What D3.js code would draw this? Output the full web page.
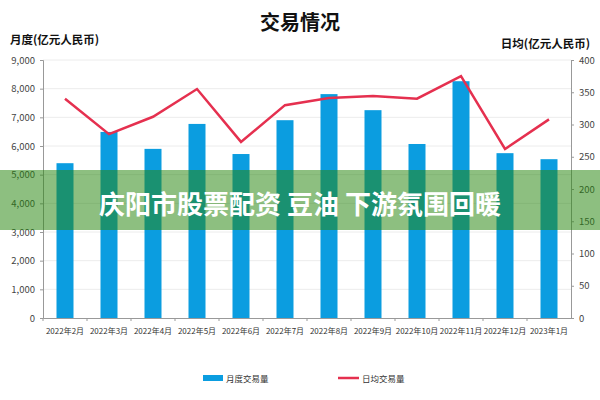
<!DOCTYPE html>
<html><head><meta charset="utf-8">
<script src="https://cdn.jsdelivr.net/npm/d3@7"></script>
<style>
body{margin:0;background:#fff;}
text{font-family:"Noto Sans CJK SC","Noto Sans",sans-serif;}
</style></head>
<body><svg id="c" width="600" height="400"></svg>
<script>
const categories = ["2022年2月","2022年3月","2022年4月","2022年5月","2022年6月","2022年7月","2022年8月","2022年9月","2022年10月","2022年11月","2022年12月","2023年1月"];
const monthly = [5400,6490,5900,6770,5720,6900,7810,7250,6070,8260,5750,5540];
const daily = [340,285,312,355,273,330,341,344,340,375,262,308];
const leftTicks = [0,1000,2000,3000,4000,5000,6000,7000,8000,9000];
const rightTicks = [0,50,100,150,200,250,300,350,400];

const svg = d3.select("#c");
const L = 43, R = 571, T = 60, B = 318;
const xc = d3.scaleBand().domain(categories).range([L,R]);
const yL = d3.scaleLinear().domain([0,9000]).range([B,T]);
const yR = d3.scaleLinear().domain([0,400]).range([B,T]);

// grid
svg.append("g").selectAll("line").data(leftTicks.slice(1)).join("line")
  .attr("x1",L).attr("x2",R).attr("y1",d=>yL(d)).attr("y2",d=>yL(d))
  .attr("stroke","#ececec").attr("stroke-width",1);

// bars
svg.append("g").selectAll("rect").data(monthly).join("rect")
  .attr("x",(d,i)=>xc(categories[i])+xc.bandwidth()/2-8.5)
  .attr("width",17)
  .attr("y",d=>yL(d)).attr("height",d=>B-yL(d))
  .attr("fill","#0b9de0");

// line
const line = d3.line().x((d,i)=>xc(categories[i])+xc.bandwidth()/2).y(d=>yR(d));
svg.append("path").datum(daily).attr("d",line).attr("fill","none")
  .attr("stroke","#e5304f").attr("stroke-width",2.5).attr("stroke-linejoin","miter");

// axes
const axFont = g=>g.selectAll("text").attr("fill","#444").attr("font-size","9.5px");
const gl = svg.append("g").attr("transform",`translate(${L},0)`)
  .call(d3.axisLeft(yL).tickValues(leftTicks).tickFormat(d3.format(",")).tickSize(3).tickPadding(5));
gl.call(axFont); gl.select(".domain").attr("stroke","#999"); gl.selectAll(".tick line").attr("stroke","#999");
const gr = svg.append("g").attr("transform",`translate(${R},0)`)
  .call(d3.axisRight(yR).tickValues(rightTicks).tickSize(3).tickPadding(5));
gr.call(axFont); gr.select(".domain").attr("stroke","#999"); gr.selectAll(".tick line").attr("stroke","#999");
const gx = svg.append("g").attr("transform",`translate(0,${B})`)
  .call(d3.axisBottom(xc).tickSize(0).tickPadding(10));
gx.call(axFont); gx.selectAll("text").attr("font-size","8px").attr("fill","#333");
gx.select(".domain").attr("stroke","#999");
gx.append("g").selectAll("line").data(categories).join("line")
  .attr("x1",d=>xc(d)).attr("x2",d=>xc(d)).attr("y1",0).attr("y2",3).attr("stroke","#999");

// titles
svg.append("text").attr("x",300).attr("y",30).attr("text-anchor","middle")
  .attr("font-size","20px").attr("font-weight","bold").attr("fill","#111").text("交易情况");
svg.append("text").attr("x",10).attr("y",44).attr("font-size","11.5px").attr("font-weight","bold").attr("fill","#111").text("月度(亿元人民币)");
svg.append("text").attr("x",590).attr("y",48).attr("text-anchor","end").attr("font-size","11.5px").attr("font-weight","bold").attr("fill","#111").text("日均(亿元人民币)");

// legend
svg.append("rect").attr("x",203).attr("y",375).attr("width",20).attr("height",6).attr("fill","#0b9de0");
svg.append("text").attr("x",226).attr("y",382).attr("font-size","8.5px").attr("fill","#333").text("月度交易量");
svg.append("line").attr("x1",338).attr("x2",359).attr("y1",378).attr("y2",378).attr("stroke","#e5304f").attr("stroke-width",2.5);
svg.append("text").attr("x",362).attr("y",382).attr("font-size","8.5px").attr("fill","#333").text("日均交易量");

// overlay banner
svg.append("rect").attr("x",0).attr("y",170).attr("width",600).attr("height",60).attr("fill","rgba(40,135,15,0.53)");
svg.append("text").attr("x",300).attr("y",214).attr("text-anchor","middle").attr("font-size","26px")
  .attr("font-weight","bold").attr("fill","#fff").text("庆阳市股票配资 豆油 下游氛围回暖");
</script></body></html>
